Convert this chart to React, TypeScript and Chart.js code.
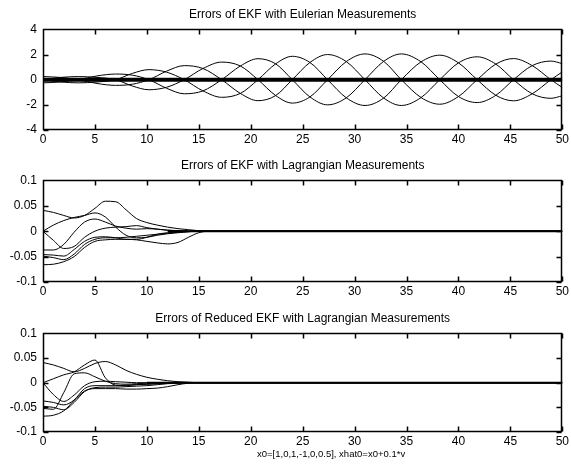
import { useEffect, useRef } from 'react';
import { Chart, registerables } from 'chart.js';

Chart.register(...registerables);

const FONT = "'Liberation Sans', Arial, Helvetica, sans-serif";

// ---------- tick labels ----------
const xTicks = [0, 5, 10, 15, 20, 25, 30, 35, 40, 45, 50];
const eulerYTicks = [-4, -2, 0, 2, 4];
const lagYTicks = [-0.1, -0.05, 0, 0.05, 0.1];

const titleEuler = 'Errors of EKF with Eulerian Measurements';
const titleLag = 'Errors of EKF with Lagrangian Measurements';
const titleReduced = 'Errors of Reduced EKF with Lagrangian Measurements';
const xLabel = 'x0=[1,0,1,-1,0,0.5], xhat0=x0+0.1*v';

// ---------- panel 1: Eulerian ----------
const eulerT = [0, 1.7, 3.4, 5.2, 7.0, 8.6, 10.2, 11.9, 13.6, 15.4, 17.2, 19.0, 20.7, 22.4, 24.0, 25.7, 27.4, 29.2, 31.0, 32.8, 34.5, 36.4, 38.2, 40.0, 41.8, 43.6, 45.3, 47.1, 48.9, 50];
const eulerA1 = [0.25, 0.18, 0, -0.3, -0.45, -0.36, 0, 0.68, 1.12, 0.89, 0, -1.09, -1.67, -1.26, 0, 1.37, 2.0, 1.44, 0, -1.46, -2.05, -1.42, 0, 1.34, 1.82, 1.24, 0, -1.12, -1.48, -1.28];
const eulerA2 = [-0.25, -0.18, 0, 0.3, 0.45, 0.36, 0, -0.68, -1.12, -0.89, 0, 1.09, 1.67, 1.26, 0, -1.37, -2.0, -1.44, 0, 1.46, 2.05, 1.42, 0, -1.34, -1.82, -1.24, 0, 1.12, 1.48, 1.28];
const eulerB1 = [0, 0.18, 0.25, 0.18, 0, -0.5, -0.8, -0.6, 0, 0.89, 1.4, 1.09, 0, -1.26, -1.86, -1.37, 0, 1.44, 2.05, 1.46, 0, -1.42, -1.95, -1.34, 0, 1.24, 1.68, 1.12, 0, -0.62];
const eulerB2 = [0, -0.18, -0.25, -0.18, 0, 0.5, 0.8, 0.6, 0, -0.89, -1.4, -1.09, 0, 1.26, 1.86, 1.37, 0, -1.44, -2.05, -1.46, 0, 1.42, 1.95, 1.34, 0, -1.24, -1.68, -1.12, 0, 0.62];
const zeroT = [0, 50];
const zeroV = [0, 0];

// ---------- panel 2: EKF Lagrangian ----------
const lagT = [0, 1, 2, 3, 4, 5, 6, 7, 8, 9, 10, 11, 12, 13, 14, 15, 16, 50];
const lagM1 = [0.041, 0.037, 0.031, 0.026, 0.031, 0.045, 0.059, 0.058, 0.042, 0.025, 0.017, 0.012, 0.008, 0.005, 0.003, 0.001, 0, 0];
const lagM2 = [0, 0.012, 0.021, 0.027, 0.031, 0.036, 0.028, 0.008, -0.008, -0.013, -0.012, -0.008, -0.005, -0.003, -0.001, 0, 0, 0];
const lagM3 = [0, -0.018, -0.034, -0.03, -0.012, 0, 0.006, 0.008, 0.009, 0.011, 0.007, 0.004, 0.002, 0.001, 0, 0, 0, 0];
const lagM4 = [-0.066, -0.065, -0.06, -0.05, -0.032, -0.02, -0.017, -0.016, -0.016, -0.017, -0.02, -0.023, -0.025, -0.022, -0.012, -0.003, 0, 0];
const lagM5 = [-0.049, -0.052, -0.056, -0.045, -0.026, -0.016, -0.013, -0.013, -0.012, -0.01, -0.008, -0.006, -0.004, -0.002, -0.001, 0, 0, 0];
const lagM6 = [-0.046, -0.047, -0.049, -0.036, -0.02, -0.012, -0.011, -0.013, -0.016, -0.016, -0.012, -0.006, -0.003, -0.001, 0, 0, 0, 0];
const lagM7 = [-0.037, -0.037, -0.026, -0.002, 0.018, 0.024, 0.018, 0.01, 0.006, 0.004, 0.005, 0.004, 0.002, 0.001, 0, 0, 0, 0];
const lagZeroT = [12, 50];
const lagZeroV = [0, 0];

// ---------- panel 3: Reduced EKF Lagrangian ----------
const redT = [0, 1, 2, 3, 4, 5, 6, 7, 8, 9, 10, 11, 12, 13, 14, 15, 50];
const redR1 = [0.041, 0.036, 0.029, 0.022, 0.029, 0.039, 0.043, 0.036, 0.025, 0.017, 0.011, 0.007, 0.004, 0.002, 0.001, 0, 0];
const redR2 = [0, 0.008, 0.016, 0.022, 0.036, 0.046, 0.01, -0.005, -0.006, -0.004, -0.003, -0.002, -0.001, 0, 0, 0, 0];
const redR3 = [0, -0.024, -0.038, -0.025, -0.006, 0.002, 0.003, 0.002, 0.001, 0, 0, 0, 0, 0, 0, 0, 0];
const redR4 = [-0.052, -0.054, -0.02, 0.018, 0.02, 0.012, 0.003, -0.002, -0.003, -0.002, -0.001, 0, 0, 0, 0, 0, 0];
const redR5 = [-0.037, -0.04, -0.045, -0.035, -0.012, -0.006, -0.006, -0.006, -0.005, -0.004, -0.003, -0.002, -0.001, 0, 0, 0, 0];
const redR6 = [-0.048, -0.05, -0.055, -0.04, -0.018, -0.01, -0.009, -0.009, -0.008, -0.007, -0.006, -0.004, -0.002, -0.001, 0, 0, 0];
const redR7 = [-0.068, -0.066, -0.057, -0.036, -0.017, -0.012, -0.012, -0.012, -0.013, -0.013, -0.012, -0.011, -0.008, -0.004, -0.001, 0, 0];
const redZeroT = [10, 50];
const redZeroV = [0, 0];

type Series = { t: number[]; v: number[]; w: number };

// MATLAB-style closed box with inward tick marks on all four sides
const boxTicks = {
  id: 'matlabBox',
  afterDraw(chart: any) {
    const ctx = chart.ctx;
    const a = chart.chartArea;
    const xs = chart.scales['x'];
    const ys = chart.scales['y'];
    if (!a || !xs || !ys) return;
    const L = 5;
    const l = Math.round(a.left) + 0.5;
    const r = Math.round(a.right) - 0.5;
    const t = Math.round(a.top) + 0.5;
    const b = Math.round(a.bottom) - 0.5;
    ctx.save();
    ctx.strokeStyle = '#000000';
    ctx.lineWidth = 1.5;
    ctx.setLineDash([]);
    ctx.beginPath();
    ctx.moveTo(l, t);
    ctx.lineTo(r, t);
    ctx.lineTo(r, b);
    ctx.lineTo(l, b);
    ctx.closePath();
    for (let i = 0; i < xs.ticks.length; i++) {
      const p = Math.round(xs.getPixelForValue(xs.ticks[i].value)) + 0.5;
      ctx.moveTo(p, t);
      ctx.lineTo(p, t + L);
      ctx.moveTo(p, b);
      ctx.lineTo(p, b - L);
    }
    for (let i = 0; i < ys.ticks.length; i++) {
      const p = Math.round(ys.getPixelForValue(ys.ticks[i].value)) + 0.5;
      ctx.moveTo(l, p);
      ctx.lineTo(l + L, p);
      ctx.moveTo(r, p);
      ctx.lineTo(r - L, p);
    }
    ctx.stroke();
    ctx.restore();
  },
};

function makeConfig(p: {
  series: Series[];
  title: string;
  titlePad: [number, number];
  yTicks: number[];
  xHeight: number;
}) {
  const tickFont = { family: FONT, size: 12 };
  return {
    type: 'line',
    data: {
      datasets: p.series.map((s) => ({
        data: s.t.map((t, i) => ({ x: t, y: s.v[i] })),
        borderColor: '#000',
        borderWidth: s.w,
        pointRadius: 0,
        fill: false,
        cubicInterpolationMode: 'monotone',
      })),
    },
    options: {
      animation: false,
      responsive: false,
      events: [],
      layout: { padding: { left: 0, right: 7, top: 0, bottom: 0 } },
      plugins: {
        legend: { display: false },
        tooltip: { enabled: false },
        title: {
          display: true,
          text: p.title,
          fullSize: false,
          color: '#000',
          font: { family: FONT, size: 12, weight: 'normal' },
          padding: { top: p.titlePad[0], bottom: p.titlePad[1] },
        },
      },
      scales: {
        x: {
          type: 'linear',
          min: 0,
          max: 50,
          afterBuildTicks: (s: any) => {
            s.ticks = xTicks.map((v) => ({ value: v }));
          },
          afterFit: (s: any) => {
            s.height = p.xHeight;
          },
          grid: { display: false, drawTicks: false },
          border: { display: false },
          ticks: {
            padding: 2,
            color: '#000',
            font: tickFont,
            maxRotation: 0,
            autoSkip: false,
            callback: (v: any) => String(v),
          },
        },
        y: {
          type: 'linear',
          min: p.yTicks[0],
          max: p.yTicks[p.yTicks.length - 1],
          afterBuildTicks: (s: any) => {
            s.ticks = p.yTicks.map((v) => ({ value: v }));
          },
          afterFit: (s: any) => {
            s.width = 43;
          },
          grid: { display: false, drawTicks: false },
          border: { display: false },
          ticks: {
            padding: 6,
            color: '#000',
            font: tickFont,
            autoSkip: false,
            callback: (v: any) => String(Math.round(v * 1000) / 1000),
          },
        },
      },
    },
    plugins: [boxTicks],
  };
}

export default function App() {
  const c1 = useRef<HTMLCanvasElement>(null);
  const c2 = useRef<HTMLCanvasElement>(null);
  const c3 = useRef<HTMLCanvasElement>(null);

  useEffect(() => {
    const charts: Chart[] = [];
    charts.push(
      new Chart(
        c1.current!,
        makeConfig({
          title: titleEuler,
          titlePad: [7, 8],
          yTicks: eulerYTicks,
          xHeight: 20,
          series: [
            { t: zeroT, v: zeroV, w: 4 },
            { t: eulerT, v: eulerA1, w: 1 },
            { t: eulerT, v: eulerA2, w: 1 },
            { t: eulerT, v: eulerB1, w: 1 },
            { t: eulerT, v: eulerB2, w: 1 },
          ],
        }) as any
      )
    );
    charts.push(
      new Chart(
        c2.current!,
        makeConfig({
          title: titleLag,
          titlePad: [8, 8],
          yTicks: lagYTicks,
          xHeight: 18,
          series: [
            { t: lagZeroT, v: lagZeroV, w: 2 },
            { t: lagT, v: lagM1, w: 1 },
            { t: lagT, v: lagM2, w: 1 },
            { t: lagT, v: lagM3, w: 1 },
            { t: lagT, v: lagM4, w: 1 },
            { t: lagT, v: lagM5, w: 1 },
            { t: lagT, v: lagM6, w: 1 },
            { t: lagT, v: lagM7, w: 1 },
          ],
        }) as any
      )
    );
    charts.push(
      new Chart(
        c3.current!,
        makeConfig({
          title: titleReduced,
          titlePad: [11, 8],
          yTicks: lagYTicks,
          xHeight: 35,
          series: [
            { t: redZeroT, v: redZeroV, w: 2 },
            { t: redT, v: redR1, w: 1 },
            { t: redT, v: redR2, w: 1 },
            { t: redT, v: redR3, w: 1 },
            { t: redT, v: redR4, w: 1 },
            { t: redT, v: redR5, w: 1 },
            { t: redT, v: redR6, w: 1 },
            { t: redT, v: redR7, w: 1 },
          ],
        }) as any
      )
    );
    return () => charts.forEach((c) => c.destroy());
  }, []);

  const cs = (top: number, h: number): any => ({
    position: 'absolute',
    left: 0,
    top,
    width: 571,
    height: h,
    display: 'block',
  });

  return (
    <div
      style={{
        position: 'absolute',
        left: 0,
        top: 0,
        width: 571,
        height: 467,
        background: '#fff',
        overflow: 'hidden',
      }}
    >
      <canvas ref={c1} width={571} height={150} style={cs(0, 150)} />
      <canvas ref={c2} width={571} height={150} style={cs(150, 150)} />
      <canvas ref={c3} width={571} height={167} style={cs(300, 167)} />
      <div
        style={{
          position: 'absolute',
          left: 257,
          top: 448,
          fontFamily: FONT,
          fontSize: 9.5,
          lineHeight: '12px',
          color: '#000',
          whiteSpace: 'nowrap',
        }}
      >
        {xLabel}
      </div>
    </div>
  );
}
